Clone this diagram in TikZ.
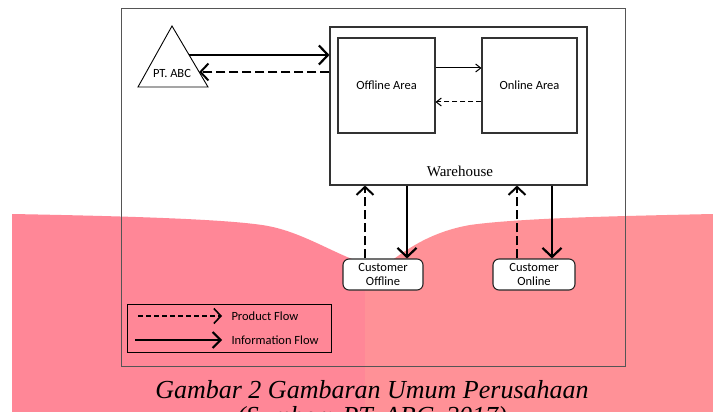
\documentclass[tikz,border=0pt]{standalone}
\usepackage{fontspec}
\setmainfont{Liberation Serif}
\newfontfamily\calibri{Carlito}
\usetikzlibrary{arrows.meta}
\definecolor{pinkL}{HTML}{FF8797}
\definecolor{pinkR}{HTML}{FF9197}
\definecolor{framegray}{HTML}{555555}
\tikzset{
  sans/.style={font=\calibri\fontsize{12.5}{14.5}\selectfont},
  areabox/.style={draw=black!80, line width=1.1pt, fill=white, inner sep=0pt, sans},
  custbox/.style={draw=black!85, line width=1.1pt, fill=white, rounded corners=6pt, inner sep=0pt, align=center, sans},
  infoflow/.style={line width=2.6pt, -{Straight Barb[length=9pt,width=19pt,line width=2.2pt]}},
  prodflow/.style={line width=2.2pt, dash pattern=on 9pt off 4pt, -{Straight Barb[length=8pt,width=17pt,line width=2pt]}},
  thinflow/.style={line width=1pt, -{Straight Barb[length=5pt,width=8pt]}},
  thindash/.style={line width=1pt, dash pattern=on 5pt off 3pt, -{Straight Barb[length=5pt,width=8pt]}},
}
\begin{document}
\begin{tikzpicture}[x=1pt,y=-1pt]
\useasboundingbox (0,0) rectangle (713,412);
\clip (0,0) rectangle (713,412);
\fill[white] (0,0) rectangle (713,412);
% pink background shape
\begin{scope}
  \clip (12,412) -- (12,214) .. controls (120,216) and (230,219) .. (268,226)
        .. controls (310,234) and (345,262) .. (382,268)
        .. controls (405,250) and (430,232) .. (470,225)
        .. controls (520,218) and (620,216) .. (713,214) -- (713,412) -- cycle;
  \fill[pinkL] (0,150) rectangle (365,412);
  \fill[pinkR] (365,150) rectangle (713,412);
\end{scope}
% outer frame
\node[draw=framegray, line width=0.9pt, minimum width=504pt, minimum height=358pt, inner sep=0pt] (frame) at (373,187) {};
% PT. ABC triangle
\draw[line width=0.9pt, fill=white] (172,26) -- (208,87) -- (138,87) -- cycle;
\node[sans] (abc) at (172,73) {PT. ABC};
\coordinate (abcA) at (189.1,55);
\coordinate (abcB) at (199.1,72);
% warehouse
\node[draw=black!80, line width=1.1pt, fill=white, minimum width=257pt, minimum height=158pt, inner sep=0pt] (wh) at (458.5,106) {};
\node[font=\fontsize{15}{17}\selectfont] (whlabel) at (460,171) {Warehouse};
\node[areabox, minimum width=97pt, minimum height=95pt] (off) at (386.5,85.5) {Offline Area};
\node[areabox, minimum width=95pt, minimum height=95pt] (on) at (529.5,85.5) {Online Area};
% customers
\node[custbox, minimum width=80pt, minimum height=31pt] (cof) at (383,274.5) {Customer\\Offline};
\node[custbox, minimum width=82pt, minimum height=31pt] (con) at (534,274.5) {Customer\\Online};
% connectors
\draw[infoflow] (abcA) -- (abcA -| wh.west);
\draw[prodflow] (wh.west |- abcB) -- (abcB);
\draw[thinflow] (off.east |- 0,68) -- (on.west |- 0,68);
\draw[thindash] (on.west |- 0,102) -- (off.east |- 0,102);
\draw[prodflow] (cof.north -| 365,0) -- (wh.south -| 365,0);
\draw[infoflow] (wh.south -| 407,0) -- (cof.north -| 407,0);
\draw[prodflow] (con.north -| 517,0) -- (wh.south -| 517,0);
\draw[infoflow] (wh.south -| 552,0) -- (con.north -| 552,0);
% legend
\node[draw=black, line width=0.9pt, minimum width=204pt, minimum height=48pt, inner sep=0pt] (legend) at (229,328) {};
\coordinate (lpa) at (138,316);
\coordinate (lpb) at (222,316);
\coordinate (lia) at (135,340);
\coordinate (lib) at (222,340);
\draw[line width=1.5pt, dash pattern=on 5pt off 3pt, -{Straight Barb[length=7pt,width=15pt,line width=1.6pt]}] (lpa) -- (lpb);
\draw[line width=2.4pt, -{Straight Barb[length=8pt,width=16pt,line width=2pt]}] (lia) -- (lib);
\node[sans, anchor=west] (lpt) at (228,316) {Product Flow};
\node[sans, anchor=west] (lit) at (228,340) {Information Flow};
% caption
\node[font=\fontsize{26}{30}\selectfont\itshape, anchor=base] (cap1) at (372,398) {Gambar 2 Gambaran Umum Perusahaan};
\node[font=\fontsize{26}{30}\selectfont\itshape, anchor=base] (cap2) at (372,424) {(Sumber: PT. ABC, 2017)};
\end{tikzpicture}
\end{document}
